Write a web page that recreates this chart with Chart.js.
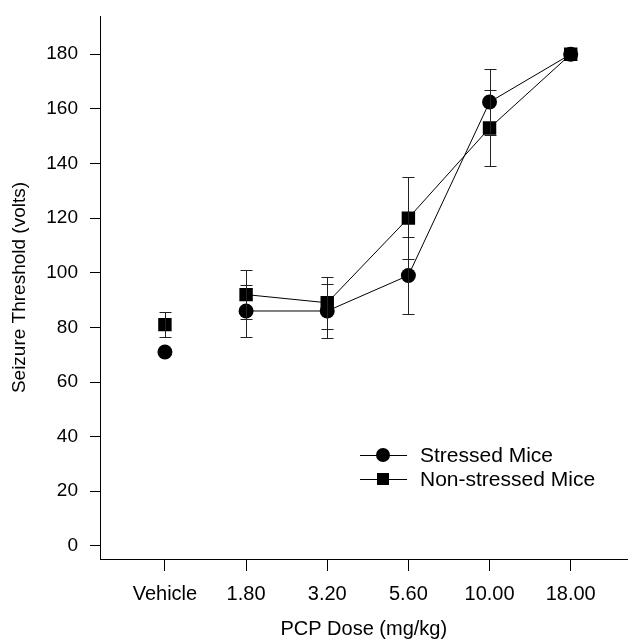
<!DOCTYPE html>
<html>
<head>
<meta charset="utf-8">
<script src="https://cdn.jsdelivr.net/npm/chart.js@4/dist/chart.umd.min.js"></script>
<style>
  html, body { margin: 0; padding: 0; background: #fff; }
  #wrap { width: 637px; height: 641px; }
</style>
</head>
<body>
<div id="wrap"><canvas id="c" width="637" height="641"></canvas></div>
<script>
// Daten
const doses = ['Vehicle', '1.80', '3.20', '5.60', '10.00', '18.00'];
const stressedMean = [71, 86, 86, 99, 162.5, 180];
const stressedErr = [0, 9.5, 10, 14, 12, 0];
const nonStressedMean = [81, 92, 89, 120, 153, 180];
const nonStressedErr = [4.7, 9, 9.5, 15, 14, 0];
const yTicks = [0, 20, 40, 60, 80, 100, 120, 140, 160, 180];

const FONT = '"Liberation Sans", Arial, sans-serif';

const toPoints = (vals, errs) => vals.map((v, i) => ({ x: i, y: v, err: errs[i] }));

// Fehlerbalken zeichnen
const errorBars = {
    id: 'errorBars',
    afterDatasetsDraw(chart) {
        const ctx = chart.ctx;
        const xs = chart.scales.x, ys = chart.scales.y;
        ctx.save();
        ctx.strokeStyle = '#222';
        ctx.lineWidth = 1;
        chart.data.datasets.forEach(ds => {
            ds.data.forEach(p => {
                if (!p.err) return;
                const x = Math.round(xs.getPixelForValue(p.x)) + 0.5;
                const top = Math.round(ys.getPixelForValue(p.y + p.err)) + 0.5;
                const bot = Math.round(ys.getPixelForValue(p.y - p.err)) + 0.5;
                ctx.beginPath();
                ctx.moveTo(x, top); ctx.lineTo(x, bot);
                ctx.moveTo(x - 6, top); ctx.lineTo(x + 6, top);
                ctx.moveTo(x - 6, bot); ctx.lineTo(x + 6, bot);
                ctx.stroke();
            });
        });
        ctx.restore();
    }
};

// Legende innerhalb der Zeichenfläche
const innerLegend = {
    id: 'innerLegend',
    afterDraw(chart) {
        const ctx = chart.ctx;
        const items = [
            { label: 'Stressed Mice', style: 'circle' },
            { label: 'Non-stressed Mice', style: 'rect' }
        ];
        ctx.save();
        ctx.font = '21px ' + FONT;
        ctx.textBaseline = 'middle';
        items.forEach((it, i) => {
            const y = 455 + i * 24;
            ctx.strokeStyle = '#000';
            ctx.lineWidth = 1;
            ctx.beginPath();
            ctx.moveTo(360, y + 0.5); ctx.lineTo(407, y + 0.5);
            ctx.stroke();
            ctx.fillStyle = '#000';
            if (it.style === 'circle') {
                ctx.beginPath();
                ctx.arc(383, y, 7, 0, Math.PI * 2);
                ctx.fill();
            } else {
                ctx.fillRect(377, y - 6, 12, 12);
            }
            ctx.fillText(it.label, 420, y + 1);
        });
        ctx.restore();
    }
};

// erstes Segment (Vehicle -> 1.80) nicht verbinden
const hideFirst = { borderColor: c => c.p0DataIndex === 0 ? 'rgba(0,0,0,0)' : '#000' };

new Chart(document.getElementById('c'), {
    type: 'line',
    data: {
        datasets: [
            {
                label: 'Stressed Mice',
                data: toPoints(stressedMean, stressedErr),
                borderColor: '#000',
                borderWidth: 1,
                backgroundColor: '#000',
                pointStyle: 'circle',
                pointRadius: 7.5,
                pointBorderWidth: 0,
                segment: hideFirst
            },
            {
                label: 'Non-stressed Mice',
                data: toPoints(nonStressedMean, nonStressedErr),
                borderColor: '#000',
                borderWidth: 1,
                backgroundColor: '#000',
                pointStyle: 'rect',
                pointRadius: 9.5,
                pointBorderWidth: 0,
                segment: hideFirst
            }
        ]
    },
    options: {
        responsive: false,
        animation: false,
        layout: { padding: { top: 16, right: 7, left: 0, bottom: 0 } },
        plugins: { legend: { display: false }, tooltip: { enabled: false } },
        scales: {
            x: {
                type: 'linear',
                min: -0.8,
                max: 5.7,
                afterFit: s => { s.height = 82; },
                border: { color: '#000', width: 1 },
                grid: { drawOnChartArea: false, drawTicks: true, tickLength: 12, color: '#000' },
                ticks: {
                    stepSize: 1,
                    includeBounds: false,
                    autoSkip: false,
                    maxRotation: 0,
                    padding: 11,
                    color: '#000',
                    font: { family: FONT, size: 20 },
                    callback: v => doses[v] !== undefined ? doses[v] : ''
                },
                title: {
                    display: true,
                    text: 'PCP Dose (mg/kg)',
                    color: '#000',
                    font: { family: FONT, size: 20 },
                    padding: { top: 4, bottom: 0 }
                }
            },
            y: {
                min: -4.8,
                max: 194,
                afterFit: s => { s.width = 100; s.paddingTop = 0; s.paddingBottom = 0; },
                afterBuildTicks: s => { s.ticks = yTicks.map(v => ({ value: v })); },
                border: { color: '#000', width: 1 },
                grid: { drawOnChartArea: false, drawTicks: true, tickLength: 10, color: '#000' },
                ticks: {
                    padding: 12,
                    color: '#000',
                    font: { family: FONT, size: 19 }
                },
                title: {
                    display: true,
                    text: 'Seizure Threshold (volts)',
                    color: '#000',
                    font: { family: FONT, size: 19 },
                    padding: { top: 8, bottom: 0 }
                }
            }
        }
    },
    plugins: [errorBars, innerLegend]
});
</script>
</body>
</html>
